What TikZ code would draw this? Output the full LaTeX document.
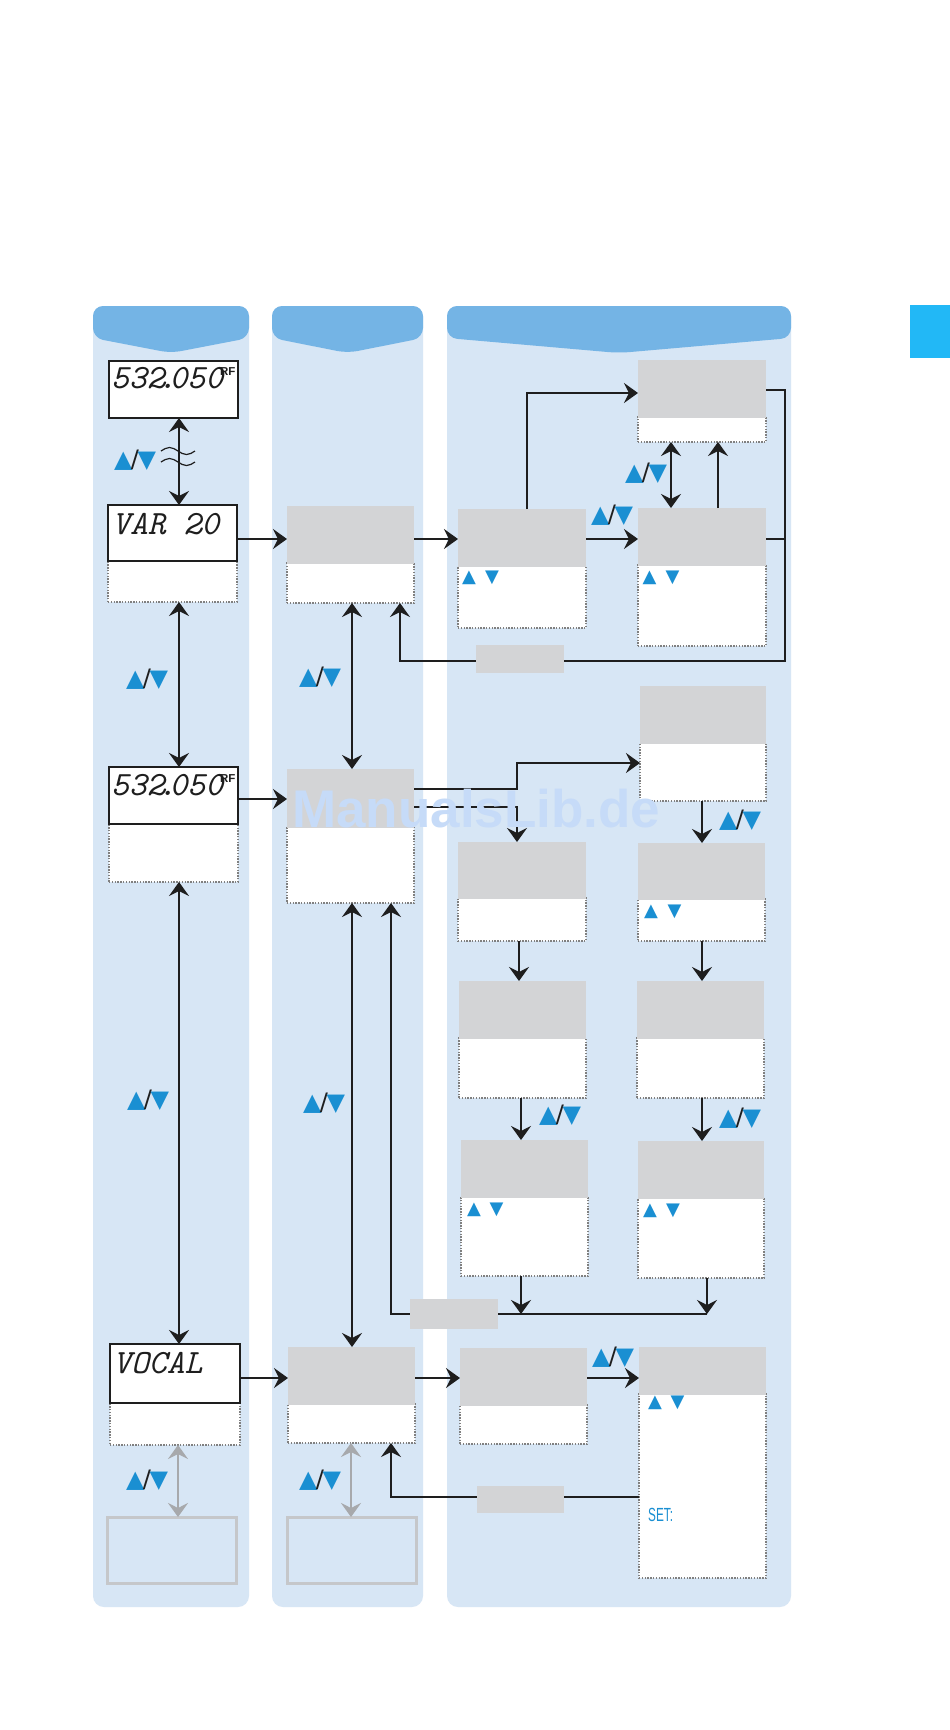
\documentclass[tikz,border=0pt]{standalone}
\usepackage{fontspec}
\newfontfamily\dv{DejaVu Sans}
\newfontfamily\lib{Liberation Sans}
\usetikzlibrary{arrows.meta,calc}
\definecolor{colbg}{HTML}{D7E6F5}
\definecolor{hdr}{HTML}{74B4E5}
\definecolor{boxgray}{HTML}{D3D4D6}
\definecolor{tri}{HTML}{1A8FD2}
\definecolor{tab}{HTML}{22B8F6}
\definecolor{wmark}{HTML}{C6DBF8}
\definecolor{ghost}{HTML}{C5C7CA}
\definecolor{garrow}{HTML}{A7A9AC}
\definecolor{ink}{HTML}{1E1E1E}
\definecolor{dotc}{HTML}{808080}
\newcommand\tri{\textcolor{tri}{▲}}
\newcommand\trd{\textcolor{tri}{▼}}
\newcommand\ud{\tri\kern-1.5pt\textcolor{ink}{/}\kern-1.5pt\trd}
\newcommand\freqtext{532\kern-6.5pt.\kern-6.5pt050\kern-3pt\raisebox{13pt}{\lib\bfseries\upshape\fontsize{11.5}{11.5}\selectfont RF}}
\tikzset{
  >={Stealth[length=14pt,width=20pt,inset=5pt]},
  conn/.style={draw=ink, line width=2.3pt, ->},
  dconn/.style={draw=ink, line width=2.3pt, <->},
  plain/.style={draw=ink, line width=2.3pt},
  gconn/.style={draw=garrow, line width=2.5pt, <->},
  lowpart/.style={draw=dotc, fill=white, line width=1.1pt, dash pattern=on 1.4pt off 1.4pt, inner sep=0, outer sep=0},
  graypart/.style={fill=boxgray, inner sep=0, outer sep=0},
  lcdbox/.style={draw=ink, fill=white, line width=1.2pt, inner sep=0, outer sep=0},
  lcdtext/.style={font=\fontsize{34}{34}\selectfont\ttfamily\itshape, text=ink, inner sep=0, anchor=base west},
  lblbox/.style={fill=boxgray, inner sep=0},
  ghostbox/.style={draw=ghost, line width=3pt, inner sep=0, outer sep=0},
  updown/.style={font=\dv\fontsize{24}{24}\selectfont, inner sep=0},
  smalltri/.style={font=\dv\fontsize{18}{18}\selectfont, inner sep=0},
  wave/.style={draw=ink, line width=1.2pt},
}
\newcommand\menubox[6]{%
  \node[lowpart, anchor=north west, minimum width={#4-#2}, minimum height={#6-#5}] (#1b) at (#2,#5) {};
  \node[graypart, anchor=north west, minimum width={#4-#2}, minimum height={#5-#3+0.6}] (#1t) at (#2,#3) {};
}
\newcommand\drawcol[3]{%
  \fill[colbg, rounded corners=11pt] (#1,306) rectangle (#2,1607);
  \fill[hdr, rounded corners=10pt] (#1,338) -- (#1,306) -- (#2,306) -- (#2,338) -- (#3,353) -- cycle;
}
\begin{document}
\begin{tikzpicture}[x=1pt,y=-1pt]
\useasboundingbox (0,0) rectangle (950,1730);
\fill[white] (0,0) rectangle (950,1730);
\fill[tab] (910,305) rectangle (950,358);
% columns
\drawcol{93}{249}{171}
\drawcol{272}{423}{347.5}
\drawcol{447}{791}{619}
% guide coordinates
\coordinate (xa) at (179,0);
\coordinate (xag) at (178,0);
\coordinate (xb) at (352,0);
\coordinate (xbg) at (351,0);
\coordinate (xc) at (400,0);
\coordinate (xd) at (391,0);
\coordinate (xe) at (527,0);
\coordinate (xf) at (671,0);
\coordinate (xg) at (718,0);
\coordinate (xh) at (785,0);
\coordinate (xi) at (517,0);
\coordinate (xj) at (702,0);
\coordinate (xk) at (519,0);
\coordinate (xl) at (521,0);
\coordinate (xm) at (707,0);
\coordinate (ya) at (0,539);
\coordinate (yb) at (0,393);
\coordinate (yc) at (0,390);
\coordinate (yd) at (0,661);
\coordinate (ye) at (0,799);
\coordinate (yf) at (0,789);
\coordinate (yg) at (0,807);
\coordinate (yh) at (0,763);
\coordinate (yi) at (0,1314);
\coordinate (yj) at (0,1378);
\coordinate (yk) at (0,1497);
% column 1
\node[lcdbox, anchor=north west, minimum width=129, minimum height=57] (A) at (109,361) {};
\node[lcdtext] (Atx) at (111,388) {\freqtext};
\node[lowpart, anchor=north west, minimum width=129, minimum height=41] (Bb) at (108,561) {};
\node[lcdbox, anchor=north west, minimum width=129, minimum height=56] (B) at (108,505) {};
\node[lcdtext] (Btx) at (112,534) {VAR 20};
\node[lowpart, anchor=north west, minimum width=129, minimum height=58] (Hb) at (109,824) {};
\node[lcdbox, anchor=north west, minimum width=129, minimum height=57] (H) at (109,767) {};
\node[lcdtext] (Htx) at (111,795) {\freqtext};
\node[lowpart, anchor=north west, minimum width=130, minimum height=42] (Vb) at (110,1403) {};
\node[lcdbox, anchor=north west, minimum width=130, minimum height=59] (V) at (110,1344) {};
\node[lcdtext] (Vtx) at (113,1373) {VOCAL};
\node[ghostbox, anchor=north west, minimum width=129, minimum height=66] (gh1) at (107,1517) {};
% column 2
\menubox{C}{287}{506}{414}{563}{603}
\menubox{G}{287}{769}{414}{827}{903}
\menubox{P}{288}{1347}{415}{1404}{1443}
\node[ghostbox, anchor=north west, minimum width=129, minimum height=66] (gh2) at (287,1517) {};
% column 3
\menubox{D}{458}{509}{586}{566}{628}
\menubox{E}{638}{360}{766}{417}{442}
\menubox{F}{638}{508}{766}{565}{646}
\menubox{I}{640}{686}{766}{743}{801}
\menubox{J}{458}{842}{586}{898}{941}
\menubox{K}{638}{843}{765}{899}{941}
\menubox{L}{459}{981}{586}{1038}{1098}
\menubox{M}{637}{981}{764}{1038}{1098}
\menubox{N}{461}{1140}{588}{1197}{1276}
\menubox{O}{638}{1141}{764}{1198}{1278}
\menubox{Q}{460}{1348}{587}{1405}{1444}
\menubox{R}{639}{1347}{766}{1394}{1578}
% connectors, top part
\draw[dconn] (A.south -| xa) -- (B.north -| xa);
\draw[wave] (161,451) sin (169.5,447.5) cos (178,451) sin (186.5,454.5) cos (195,451);
\draw[wave] (161,462) sin (169.5,458.5) cos (178,462) sin (186.5,465.5) cos (195,462);
\draw[conn] (B.east |- ya) -- (Ct.west |- ya);
\draw[conn] (Ct.east |- ya) -- (Dt.west |- ya);
\draw[conn] (Dt.east |- ya) -- (Ft.west |- ya);
\draw[conn] (Dt.north -| xe) |- (Et.west |- yb);
\draw[dconn] (Eb.south -| xf) -- (Ft.north -| xf);
\draw[conn] (Ft.north -| xg) -- (Eb.south -| xg);
\draw[plain] (Ft.east |- ya) -- (xh |- ya);
\draw[conn] (Et.east |- yc) -| (xh |- yd) -| (Cb.south -| xc);
\node[lblbox, minimum width=88, minimum height=28] (lb1) at (520,659) {};
% middle part
\draw[dconn] (Bb.south -| xa) -- (H.north -| xa);
\draw[dconn] (Cb.south -| xb) -- (Gt.north -| xb);
\draw[conn] (H.east |- ye) -- (Gt.west |- ye);
\draw[conn] (Gt.east |- yf) -| (xi |- yh) -- (Ib.west |- yh);
\draw[conn] (Gt.east |- yg) -| (Jt.north -| xi);
\draw[conn] (Ib.south -| xj) -- (Kt.north -| xj);
\draw[conn] (Jb.south -| xk) -- (Lt.north -| xk);
\draw[conn] (Kb.south -| xj) -- (Mt.north -| xj);
\draw[conn] (Lb.south -| xl) -- (Nt.north -| xl);
\draw[conn] (Mb.south -| xj) -- (Ot.north -| xj);
\draw[conn] (Nb.south -| xl) -- (xl |- yi);
\draw[conn] (Ob.south -| xm) -- (xm |- yi);
\draw[conn] (xm |- yi) -| (Gb.south -| xd);
\node[lblbox, minimum width=88, minimum height=30] (lb2) at (454,1314) {};
% bottom part
\draw[dconn] (Hb.south -| xa) -- (V.north -| xa);
\draw[dconn] (Gb.south -| xb) -- (Pt.north -| xb);
\draw[conn] (V.east |- yj) -- (Pt.west |- yj);
\draw[conn] (Pt.east |- yj) -- (Qt.west |- yj);
\draw[conn] (Qt.east |- yj) -- (Rt.west |- yj);
\draw[conn] (Rb.west |- yk) -| (Pb.south -| xd);
\node[lblbox, minimum width=87, minimum height=27] (lb3) at (520.5,1499.5) {};
\draw[gconn] (Vb.south -| xag) -- (gh1.north -| xag);
\draw[gconn] (Pb.south -| xbg) -- (gh2.north -| xbg);
% up/down labels
\node[updown] (u1) at (135,460) {\ud};
\node[updown] (u2) at (147,679) {\ud};
\node[updown] (u3) at (320,677) {\ud};
\node[updown] (u4) at (646,473) {\ud};
\node[updown] (u5) at (612,515) {\ud};
\node[updown] (u6) at (740,820) {\ud};
\node[updown] (u7) at (560,1115) {\ud};
\node[updown] (u8) at (740,1118) {\ud};
\node[updown] (u9) at (148,1100) {\ud};
\node[updown] (u10) at (324,1103) {\ud};
\node[updown] (u11) at (613,1357) {\ud};
\node[updown] (u12) at (147,1480) {\ud};
\node[updown] (u13) at (320,1480) {\ud};
% small triangles in boxes
\node[smalltri] (dU) at (469,578) {\tri};   \node[smalltri] (dD) at (492,578) {\trd};
\node[smalltri] (fU) at (649.5,578) {\tri}; \node[smalltri] (fD) at (672.5,578) {\trd};
\node[smalltri] (kU) at (651,912) {\tri};   \node[smalltri] (kD) at (674.5,912) {\trd};
\node[smalltri] (nU) at (474,1210) {\tri};  \node[smalltri] (nD) at (496.5,1210) {\trd};
\node[smalltri] (oU) at (650,1211) {\tri};  \node[smalltri] (oD) at (673,1211) {\trd};
\node[smalltri] (rU) at (655,1403) {\tri};  \node[smalltri] (rD) at (677.5,1403) {\trd};
\node[anchor=base west, inner sep=0, font=\lib\fontsize{19}{19}\selectfont, text=tri] (set) at (648,1521) {\scalebox{0.62}[1]{SET:}};
% watermark
\node[anchor=base west, inner sep=0, font=\lib\bfseries\fontsize{53}{53}\selectfont, text=wmark] (wm) at (292,827) {ManualsLib.de};
\end{tikzpicture}
\end{document}
